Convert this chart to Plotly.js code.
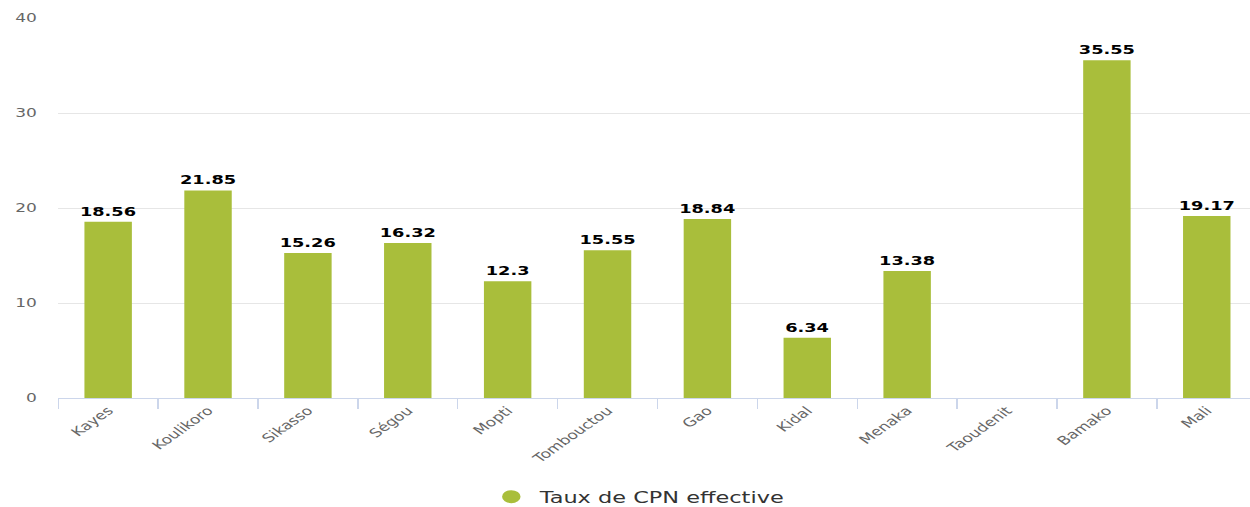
<!DOCTYPE html>
<html>
<head>
<meta charset="utf-8">
<script src="https://cdn.plot.ly/plotly-3.0.1.min.js"></script>
<style>
  html, body { margin: 0; padding: 0; overflow: hidden; background: #fff; width: 1250px; height: 507px; }
  #chart { width: 890px; height: 507px; transform: scaleX(1.42); transform-origin: 0 0; }
</style>
</head>
<body>
<div id="chart"></div>
<script>
const regions = ["Kayes", "Koulikoro", "Sikasso", "Ségou", "Mopti", "Tombouctou", "Gao", "Kidal", "Menaka", "Taoudenit", "Bamako", "Mali"];
const tauxCPN = [18.56, 21.85, 15.26, 16.32, 12.3, 15.55, 18.84, 6.34, 13.38, null, 35.55, 19.17];
const seriesName = "Taux de CPN effective";
const yTicks = [0, 10, 20, 30, 40];

const green = "#A9BE3B";
const font = "DejaVu Sans";

const traces = [
  {
    type: "bar",
    x: regions,
    y: tauxCPN,
    marker: { color: green },
    text: tauxCPN.map(v => v === null ? "" : String(v)),
    texttemplate: "%{text}",
    textposition: "outside",
    constraintext: "none",
    cliponaxis: false,
    textfont: { family: font, size: 12.5, color: "#000", weight: "bold" },
    showlegend: false,
    hoverinfo: "x+y"
  },
  {
    type: "scatter",
    mode: "markers",
    x: [null],
    y: [null],
    name: seriesName,
    marker: { color: green, size: 13, symbol: "circle" },
    showlegend: true
  }
];

const layout = {
  width: 890,
  height: 507,
  margin: { l: 41, r: 5, t: 18, b: 109, autoexpand: false },
  paper_bgcolor: "#fff",
  plot_bgcolor: "#fff",
  font: { family: font, color: "#666" },
  bargap: 0.525,
  xaxis: {
    type: "category",
    automargin: false,
    showline: true,
    linecolor: "#ccd6eb",
    linewidth: 1,
    ticks: "outside",
    tickson: "boundaries",
    ticklen: 10,
    tickcolor: "#ccd6eb",
    tickangle: -45,
    tickfont: { family: font, size: 12, color: "#666" },
    showgrid: false,
    zeroline: false,
    fixedrange: true
  },
  yaxis: {
    automargin: false,
    range: [0, 40],
    tickvals: yTicks,
    ticktext: yTicks.map(String),
    showgrid: true,
    gridcolor: "#e6e6e6",
    gridwidth: 1,
    zeroline: false,
    showline: false,
    ticklabelstandoff: 14,
    tickfont: { family: font, size: 12, color: "#666" },
    fixedrange: true
  },
  showlegend: true,
  legend: {
    orientation: "h",
    x: 0.4835,
    xanchor: "center",
    yref: "container",
    y: 0.02,
    yanchor: "middle",
    font: { family: font, size: 15.8, color: "#333" },
    itemsizing: "trace"
  }
};

Plotly.newPlot("chart", traces, layout, { displayModeBar: false, staticPlot: true });
</script>
</body>
</html>
